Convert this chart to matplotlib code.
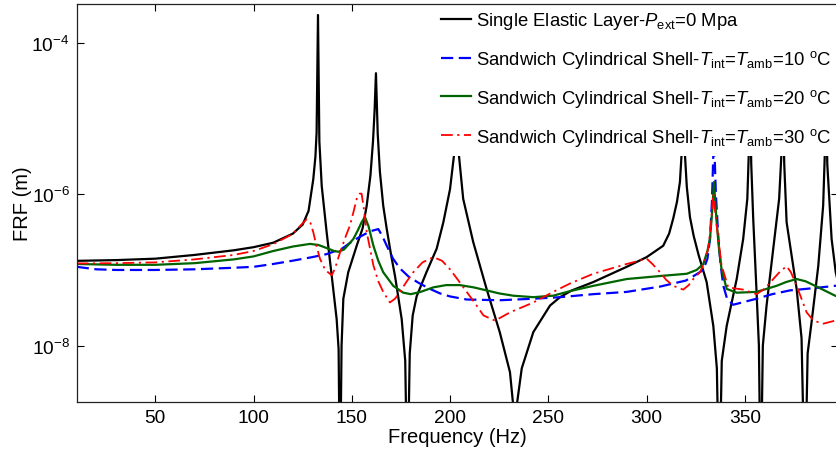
import matplotlib
matplotlib.use("Agg")
import matplotlib.pyplot as plt
from matplotlib.ticker import FixedLocator, NullLocator

plt.rcParams["font.family"] = ["Liberation Sans", "DejaVu Sans"]
plt.rcParams["mathtext.fontset"] = "custom"
plt.rcParams["mathtext.rm"] = "Liberation Sans"
plt.rcParams["mathtext.it"] = "Liberation Sans:italic"
plt.rcParams["mathtext.bf"] = "Liberation Sans:bold"

# ---- FRF data (frequency in Hz, response in m) ----
single_f = [10, 30, 50, 70, 90, 100, 110, 120, 125, 128, 130.4, 131.5, 132.1, 132.8,
            133.5, 134.7, 137.2, 139.8, 142.3, 143.3, 144.0, 144.8, 145.7, 148.2, 152.5,
            155.5, 157.6, 159.5, 160.8, 161.6, 162.3, 163.2, 164.3, 166.0, 167.8, 170.0,
            172.0, 175.4, 177.2, 178.3, 179.5, 181.0, 183.0, 188.0, 193.2, 196.6, 200.0,
            202.4, 203.4, 204.4, 206.7, 211.8, 218.6, 225.3, 230.5, 232.2, 233.0, 233.9,
            236.5, 242.4, 250.9, 256.0, 262.0, 272.9, 289.9, 300.1, 308.5, 311.5, 313.6,
            315.5, 317.0, 317.9, 318.7, 319.5, 320.5, 322.1, 324.0, 326.5, 330.6, 334.0,
            335.8, 337.0, 338.3, 340.8, 345.9, 349.2, 351.3, 352.0, 352.6, 353.3, 354.3,
            356.0, 357.2, 358.1, 359.2, 361.1, 364.5, 367.5, 368.6, 369.3, 370.1, 371.3,
            376.4, 378.9, 380.6, 382.0, 384.0, 387.4, 389.9, 390.7, 391.3, 392.0, 394.2,
            396.3, 400.0]
single_frf = [1.32e-7, 1.35e-7, 1.41e-7, 1.58e-7, 1.82e-7, 2.0e-7, 2.29e-7, 3.02e-7,
              3.98e-7, 6.03e-7, 1.58e-6, 3.16e-6, 6.61e-6, 2.34e-4, 5.01e-6, 1.29e-6,
              3.16e-7, 8.32e-8, 2.24e-8, 8.9e-9, 1e-10, 1.0e-8, 4.17e-8, 9.33e-8, 2.09e-7,
              3.55e-7, 7.08e-7, 1.78e-6, 5.01e-6, 1.26e-5, 3.98e-5, 6.31e-6, 2.0e-6,
              7.08e-7, 3.47e-7, 1.58e-7, 8.32e-8, 2.24e-8, 6.3e-9, 1e-10, 7.9e-9, 2.5e-8,
              4.47e-8, 9.33e-8, 1.91e-7, 4.27e-7, 1.17e-6, 3.98e-6, 3.16e-5, 3.55e-6,
              8.71e-7, 2.34e-7, 5.62e-8, 1.51e-8, 4.47e-9, 1.58e-9, 1e-10, 1.58e-9,
              5.01e-9, 1.51e-8, 3.39e-8, 4.37e-8, 5.37e-8, 6.92e-8, 1.10e-7, 1.48e-7,
              2.09e-7, 3.02e-7, 4.79e-7, 7.94e-7, 1.45e-6, 3.55e-6, 3.16e-5, 3.55e-6,
              1.26e-6, 5.01e-7, 2.82e-7, 1.58e-7, 6.92e-8, 1.82e-8, 5.01e-9, 1e-10,
              6.3e-9, 1.82e-8, 7.59e-8, 2.57e-7, 8.71e-7, 3.16e-6, 3.16e-5, 2.51e-6,
              4.79e-7, 5.13e-8, 1e-8, 1e-10, 1e-8, 3.39e-8, 1.91e-7, 8.71e-7, 3.16e-6,
              3.16e-5, 2.51e-6, 4.27e-7, 5.62e-8, 1.26e-8, 1e-10, 7.9e-9, 2.04e-8,
              1.12e-7, 7.08e-7, 3.16e-6, 3.16e-5, 2.51e-6, 2.57e-7, 9.33e-8, 3.55e-8]

t10_f = [10, 20, 30, 50, 70, 90, 100, 110, 120.2, 130, 137.2, 145, 150.8, 155, 159.3,
         163.5, 165.5, 167.8, 171, 174.5, 179, 184, 189.8, 194.9, 200, 208.5, 225.3,
         242.4, 256, 272.9, 289.9, 306.9, 315, 320, 324, 328.9, 331.0, 332.3, 333.3,
         334.3, 335.3, 336.6, 337.8, 339.1, 341, 344.1, 350, 356, 364, 373, 385, 396, 400]
t10_frf = [1.10e-7, 1.02e-7, 1.0e-7, 1.0e-7, 1.02e-7, 1.07e-7, 1.10e-7, 1.20e-7, 1.33e-7,
           1.48e-7, 1.62e-7, 1.91e-7, 2.45e-7, 2.82e-7, 3.24e-7, 3.47e-7, 2.82e-7,
           2.09e-7, 1.41e-7, 1.05e-7, 8.13e-8, 6.76e-8, 5.62e-8, 4.90e-8, 4.47e-8,
           4.07e-8, 3.98e-8, 4.17e-8, 4.37e-8, 4.79e-8, 5.13e-8, 6.03e-8, 6.76e-8,
           7.24e-8, 8.32e-8, 1.0e-7, 1.41e-7, 2.57e-7, 7.94e-7, 6.31e-6, 1.0e-6, 2.57e-7,
           1.12e-7, 6.17e-8, 4.17e-8, 3.47e-8, 3.80e-8, 4.17e-8, 4.79e-8, 5.37e-8,
           5.75e-8, 6.17e-8, 6.31e-8]

t20_f = [10, 30, 50, 70, 90, 100, 110, 120, 128.7, 133, 137.2, 141, 143.1, 146, 148.5,
         150.8, 153, 155, 156.7, 158.5, 161, 163.5, 166, 171.1, 176.2, 180, 185, 191.5,
         198, 205, 212, 218.6, 225, 232.2, 242.4, 252.5, 261, 272.9, 289.9, 306.9, 320.5,
         325.5, 328.9, 331.0, 332.3, 333.5, 334.3, 335.0, 335.7, 337.0, 338.2, 340.8,
         345.9, 356, 366.2, 371, 376.4, 381, 386.6, 396, 400]
t20_frf = [1.20e-7, 1.17e-7, 1.17e-7, 1.23e-7, 1.38e-7, 1.51e-7, 1.78e-7, 2.04e-7,
           2.21e-7, 2.14e-7, 1.95e-7, 1.78e-7, 1.74e-7, 1.86e-7, 2.19e-7, 2.57e-7,
           3.31e-7, 4.27e-7, 5.01e-7, 3.80e-7, 2.09e-7, 1.32e-7, 9.33e-8, 6.17e-8,
           5.01e-8, 4.79e-8, 5.13e-8, 5.89e-8, 6.31e-8, 6.31e-8, 5.89e-8, 5.37e-8,
           4.90e-8, 4.57e-8, 4.37e-8, 4.57e-8, 5.25e-8, 6.17e-8, 7.59e-8, 8.32e-8,
           8.91e-8, 1.0e-7, 1.20e-7, 1.78e-7, 2.57e-7, 6.31e-7, 1.45e-6, 7.94e-7,
           4.27e-7, 1.78e-7, 1.02e-7, 5.62e-8, 5.01e-8, 5.13e-8, 6.17e-8, 6.92e-8,
           7.59e-8, 7.08e-8, 6.03e-8, 4.57e-8, 4.17e-8]

t30_f = [10, 30, 50, 70, 90, 100, 110, 120.2, 124, 127, 129, 130.4, 132, 133.8, 136.5,
         139.8, 141.5, 144, 147, 149.1, 151, 152.5, 154, 155, 156.2, 157.6, 161, 163.5,
         166, 169.4, 172, 174.5, 178, 181.3, 186, 191.5, 196, 200, 204, 208.5, 213, 217,
         222.9, 230.5, 242.4, 252.5, 261, 272.9, 289.9, 300.1, 303, 306.9, 310, 313.6,
         318.7, 321.5, 323.8, 327.2, 329.5, 331.4, 332.8, 334.0, 334.8, 335.7, 338.2,
         341.6, 349.2, 356, 360, 364.5, 368, 371.3, 373.5, 376.4, 381.5, 385, 389.9,
         396, 400]
t30_frf = [1.22e-7, 1.23e-7, 1.26e-7, 1.38e-7, 1.58e-7, 1.78e-7, 2.19e-7, 3.02e-7,
           3.89e-7, 4.68e-7, 4.17e-7, 3.16e-7, 2.09e-7, 1.41e-7, 1.0e-7, 8.51e-8,
           1.05e-7, 1.70e-7, 2.82e-7, 3.89e-7, 6.03e-7, 8.71e-7, 1.02e-6, 1.02e-6,
           6.31e-7, 3.16e-7, 1.15e-7, 7.08e-8, 5.13e-8, 3.72e-8, 4.17e-8, 5.13e-8,
           7.08e-8, 9.33e-8, 1.26e-7, 1.48e-7, 1.32e-7, 1.02e-7, 7.41e-8, 5.13e-8,
           3.55e-8, 2.51e-8, 2.14e-8, 2.75e-8, 3.72e-8, 5.13e-8, 6.61e-8, 8.91e-8,
           1.20e-7, 1.41e-7, 1.20e-7, 9.33e-8, 7.41e-8, 6.17e-8, 5.50e-8, 6.31e-8,
           7.59e-8, 9.33e-8, 1.26e-7, 1.91e-7, 3.98e-7, 1.02e-6, 6.31e-7, 3.89e-7,
           1.15e-7, 5.89e-8, 5.50e-8, 4.79e-8, 5.62e-8, 7.59e-8, 9.55e-8, 1.12e-7,
           9.33e-8, 6.17e-8, 2.75e-8, 2.14e-8, 1.95e-8, 2.14e-8, 2.40e-8]

labels = [
    r"Single Elastic Layer-$\mathit{P}_{\mathrm{ext}}$=0 Mpa",
    r"Sandwich Cylindrical Shell-$\mathit{T}_{\mathrm{int}}$=$\mathit{T}_{\mathrm{amb}}$=10 $^{\mathrm{o}}$C",
    r"Sandwich Cylindrical Shell-$\mathit{T}_{\mathrm{int}}$=$\mathit{T}_{\mathrm{amb}}$=20 $^{\mathrm{o}}$C",
    r"Sandwich Cylindrical Shell-$\mathit{T}_{\mathrm{int}}$=$\mathit{T}_{\mathrm{amb}}$=30 $^{\mathrm{o}}$C",
]

x_ticks = [50, 100, 150, 200, 250, 300, 350]
y_ticks = [1e-8, 1e-6, 1e-4]
y_tick_labels = [r"$10^{-8}$", r"$10^{-6}$", r"$10^{-4}$"]

W, H = 836, 456
fig = plt.figure(figsize=(W / 100, H / 100), dpi=100)
left_px, right_px, top_px, bottom_px = 76.7, 837.5, 5.0, 403.0
ax = fig.add_axes([left_px / W, (H - bottom_px) / H,
                   (right_px - left_px) / W, (bottom_px - top_px) / H])

ax.plot(single_f, single_frf, color="black", lw=1.6, label=labels[0])
ax.plot(t10_f, t10_frf, color="blue", lw=1.6, dashes=(5.5, 2.5), label=labels[1])
ax.plot(t20_f, t20_frf, color="#006400", lw=1.6, label=labels[2])
ax.plot(t30_f, t30_frf, color="red", lw=1.3, dashes=(6.5, 2.5, 1.2, 2.5), label=labels[3])

ax.set_yscale("log")
ax.set_xlim(10, 397.2)
ax.set_ylim(1.8e-9, 3.27e-4)

ax.xaxis.set_major_locator(FixedLocator(x_ticks))
ax.set_xticklabels([str(v) for v in x_ticks])
ax.yaxis.set_major_locator(FixedLocator(y_ticks))
ax.yaxis.set_minor_locator(NullLocator())
ax.set_yticklabels(y_tick_labels)

ax.tick_params(direction="in", top=True, right=True, length=5, width=0.8,
               labelsize=13.8, pad=5)
for s in ax.spines.values():
    s.set_linewidth(0.9)
    s.set_color("#222222")
    s.set_zorder(10)  # keep the box outline above the legend panel

ax.set_xlabel("Frequency (Hz)", fontsize=14.5, labelpad=1)
ax.set_ylabel("FRF (m)", fontsize=14.5)
ax.yaxis.set_label_coords((32 - left_px) / (right_px - left_px), 0.5)

leg = ax.legend(loc="upper left",
                bbox_to_anchor=((432 - left_px) / (right_px - left_px),
                                (bottom_px - 2.6) / (bottom_px - top_px)),
                borderaxespad=0, fontsize=13.3, frameon=True, fancybox=False,
                framealpha=1, handlelength=1.65, handletextpad=0.25,
                labelspacing=0.91, borderpad=0.47)
leg.get_frame().set_facecolor("white")
leg.get_frame().set_edgecolor("none")

fig.savefig("out.png", dpi=100)
